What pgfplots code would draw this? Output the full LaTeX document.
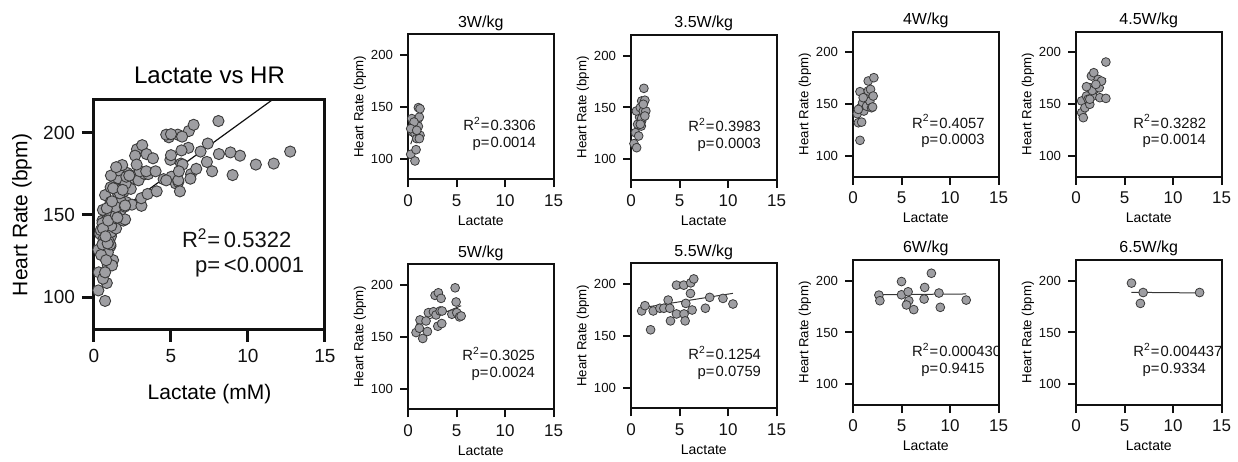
\documentclass[border=0pt]{standalone}
\usepackage{fontspec}
\setmainfont{Liberation Sans}
\usepackage{pgfplots}
\pgfplotsset{compat=1.18}
\usepackage{pgfplotstable}
\definecolor{dotfill}{HTML}{9E9EA2}
\definecolor{dotedge}{HTML}{3A3A3A}
\definecolor{ink}{HTML}{111111}

% one table per power step (lactate mM, heart rate bpm)
\pgfplotstableread{
x y
0.28 104.1
0.72 97.7
0.83 108.6
0.39 138.6
0.48 125.7
0.55 132.1
0.72 124.1
0.90 119.3
0.97 137.0
1.07 131.1
1.17 140.1
1.07 149.2
1.24 148.1
1.24 122.5
0.62 135.3
0.28 128.9
0.90 127.3
1.17 119.3
}\tA
\pgfplotstableread{
x y
0.31 115.1
0.58 111.2
0.46 125.7
0.79 122.5
0.68 133.8
0.88 140.8
0.55 146.6
0.96 149.9
1.10 137.0
1.06 132.1
1.27 146.6
1.10 156.3
1.10 139.5
1.33 168.5
1.43 157.0
1.53 146.6
1.43 141.8
0.96 133.8
1.27 153.1
}\tB
\pgfplotstableread{
x y
0.72 115.1
0.44 140.8
0.55 132.1
0.89 132.7
0.72 162.1
0.79 146.6
0.99 151.4
1.12 143.4
1.22 156.3
1.40 148.1
1.57 162.8
1.57 172.4
1.74 152.9
1.91 146.6
1.81 164.3
2.08 157.9
2.15 175.6
1.05 156.3
0.55 145.0
2.02 147.3
}\tC
\pgfplotstableread{
x y
0.58 141.8
0.75 137.0
0.58 153.1
0.92 146.6
1.08 157.9
1.25 154.8
1.42 149.9
1.42 165.9
1.59 177.2
1.76 157.9
1.83 180.4
1.93 164.3
1.68 163.2
2.29 173.9
2.39 165.9
2.46 156.3
2.63 172.3
3.08 190.7
3.08 155.6
1.08 166.9
2.05 169.1
1.42 154.8
}\tD
\pgfplotstableread{
x y
0.83 154.1
1.24 166.3
1.17 158.3
1.52 148.4
1.86 165.3
2.00 155.1
2.10 173.3
2.62 174.2
2.79 190.0
2.89 171.1
3.13 192.5
3.31 174.9
3.07 160.2
3.41 187.1
3.48 162.8
3.52 174.9
4.86 197.3
4.96 183.6
4.52 171.8
5.03 173.3
5.31 169.2
5.48 170.1
}\tE
\pgfplotstableread{
x y
1.10 174.0
1.44 179.1
2.02 155.8
2.29 174.0
2.98 176.6
3.39 176.6
3.83 184.5
4.00 176.6
4.07 164.4
4.69 198.9
4.69 171.1
5.44 198.9
5.47 171.1
5.58 164.4
5.65 181.3
6.13 190.9
6.16 201.1
6.47 204.9
6.30 174.9
7.67 176.6
8.11 187.1
9.48 186.1
10.51 180.7
}\tF
\pgfplotstableread{
x y
2.67 186.1
2.77 180.7
5.00 199.2
5.00 186.4
5.68 189.3
5.75 180.7
5.51 176.6
6.26 172.1
7.39 193.5
7.33 182.3
8.08 207.2
8.86 188.1
9.00 174.3
11.67 181.3
}\tG
\pgfplotstableread{
x y
5.72 197.7
6.92 188.6
6.64 178.1
12.74 188.6
}\tH

\pgfplotsset{
  hrbase/.style={
    scale only axis, anchor=south west,
    xmin=0, xmax=15, ymin=80, ymax=220,
    xtick={0,5,10,15}, ytick={100,150,200},
    tick pos=left, tick align=outside,
    /pgf/number format/assume math mode=true,
    every axis title shift=0pt,
    ylabel={Heart Rate (bpm)},
    ylabel style={anchor=center},
    title style={anchor=base},
  },
  smallax/.style={hrbase,
    width=72.75pt, height=72.5pt,
    major tick length=4pt,
    axis line style={ink, line width=1pt},
    major tick style={ink, line width=1pt},
    xticklabel style={font=\fontsize{8.5}{8.5}\selectfont, text=ink},
    yticklabel style={font=\fontsize{6.6}{6.6}\selectfont, text=ink},
    xlabel=Lactate,
    xlabel style={font=\fontsize{7}{7}\selectfont, at={(axis description cs:0.5,-0.283)}, anchor=center},
    ylabel style={font=\fontsize{6.6}{6.6}\selectfont, at={(axis description cs:-0.331,0.5)}},
    title style={font=\fontsize{8}{8}\selectfont, at={(axis description cs:0.5,1.05)}},
  },
  dots/.style={only marks, mark=*, mark size=2.2pt,
    mark options={fill=dotfill, draw=dotedge, line width=0.4pt}},
  bigdots/.style={only marks, mark=*, mark size=2.8pt,
    mark options={fill=dotfill, draw=dotedge, line width=0.45pt}},
  fitline/.style={ink!85, line width=0.5pt},
}
\tikzset{stat/.style={inner sep=0pt, anchor=base west, font=\fontsize{7.4}{7.4}\selectfont, text=ink}}

% two stat lines, the "=" signs aligned
\newcommand\rsq[3]{%
  \node[stat] at (axis cs:#1,127) {R\textsuperscript{2}=\kern0.08em#2};
  \node[stat] at (axis cs:#1,110.7) {\hphantom{R\textsuperscript{2}}\llap{p}=\kern0.08em#3};
}

\begin{document}
\begin{tikzpicture}
\useasboundingbox (0,0) rectangle (619pt,230.5pt);

% pooled data
\begin{axis}[hrbase, at={(47pt,65.5pt)}, width=115.5pt, height=115pt,
  major tick length=6pt,
  axis line style={ink, line width=1.5pt},
  major tick style={ink, line width=1.5pt},
  ticklabel style={font=\fontsize{9.5}{9.5}\selectfont, text=ink},
  xlabel={Lactate (mM)},
  xlabel style={font=\fontsize{10.5}{10.5}\selectfont, at={(axis description cs:0.5,-0.28)}, anchor=center},
  ylabel style={font=\fontsize{10.5}{10.5}\selectfont, at={(axis description cs:-0.312,0.5)}},
  title={Lactate vs HR},
  title style={font=\fontsize{12}{12}\selectfont, at={(axis description cs:0.5,1.073)}},
]
\addplot[bigdots] table {\tA};
\addplot[bigdots] table {\tB};
\addplot[bigdots] table {\tC};
\addplot[bigdots] table {\tD};
\addplot[bigdots] table {\tE};
\addplot[bigdots] table {\tF};
\addplot[bigdots] table {\tG};
\addplot[bigdots] table {\tH};
\addplot[ink, line width=0.6pt] coordinates {(0.28,143.3) (12.74,228.0)};
\node[stat, font=\fontsize{11}{11}\selectfont] at (axis cs:5.69,130.5) {R\textsuperscript{2}=\,0.5322};
\node[stat, font=\fontsize{11}{11}\selectfont] at (axis cs:5.69,114.7) {\hphantom{R\textsuperscript{2}}\llap{p}=\,<0.0001};
\end{axis}

% top row
\begin{axis}[smallax, at={(204pt,140.85pt)}, title={3W/kg}]
\addplot[dots] table {\tA};
\addplot[fitline] coordinates {(0.28,114) (1.24,138)};
\rsq{5.67}{0.3306}{0.0014}
\end{axis}
\begin{axis}[smallax, at={(315.5pt,140.5pt)}, title={3.5W/kg}]
\addplot[dots] table {\tB};
\addplot[fitline] coordinates {(0.31,122) (1.53,155)};
\rsq{5.88}{0.3983}{0.0003}
\end{axis}
\begin{axis}[smallax, at={(426.5pt,142.15pt)}, title={4W/kg}]
\addplot[dots] table {\tC};
\addplot[fitline] coordinates {(0.44,133) (2.15,165)};
\rsq{6.05}{0.4057}{0.0003}
\end{axis}
\begin{axis}[smallax, at={(538pt,142.15pt)}, title={4.5W/kg}]
\addplot[dots] table {\tD};
\addplot[fitline] coordinates {(0.58,145) (3.08,175)};
\rsq{5.88}{0.3282}{0.0014}
\end{axis}

% bottom row
\begin{axis}[smallax, at={(204pt,25.85pt)}, title={5W/kg}]
\addplot[dots] table {\tE};
\addplot[fitline] coordinates {(0.83,162) (5.48,180)};
\rsq{5.57}{0.3025}{0.0024}
\end{axis}
\begin{axis}[smallax, at={(315.5pt,26.35pt)}, title={5.5W/kg}]
\addplot[dots] table {\tF};
\addplot[fitline] coordinates {(1.10,177) (10.51,191)};
\rsq{5.88}{0.1254}{0.0759}
\end{axis}
\begin{axis}[smallax, at={(426.5pt,28pt)}, title={6W/kg}]
\addplot[dots] table {\tG};
\addplot[fitline] coordinates {(2.67,186.5) (11.67,187.2)};
\rsq{6.05}{0.0004300}{0.9415}
\end{axis}
\begin{axis}[smallax, at={(538pt,28pt)}, title={6.5W/kg}]
\addplot[dots] table {\tH};
\addplot[fitline] coordinates {(5.72,188.8) (12.74,188.2)};
\rsq{5.88}{0.004437}{0.9334}
\end{axis}
\end{tikzpicture}
\end{document}
